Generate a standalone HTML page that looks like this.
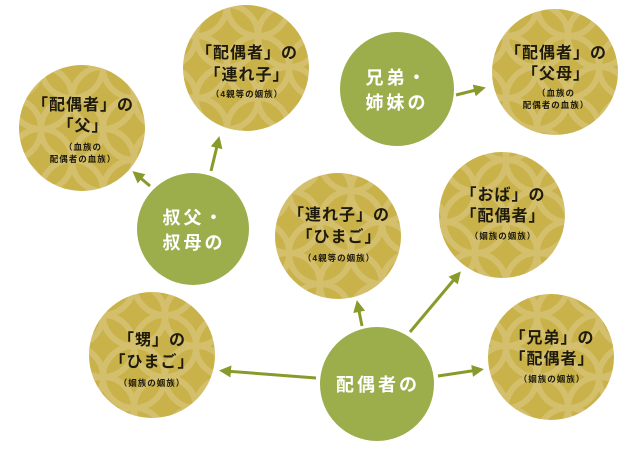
<!DOCTYPE html>
<html><head><meta charset="utf-8"><style>
html,body{margin:0;padding:0;background:#fff;}
svg{display:block;}
text{font-family:"Liberation Sans","Noto Sans CJK JP",sans-serif;font-weight:bold;text-anchor:middle;}
.g{fill:#1e1a0c;font-size:16px;letter-spacing:1px;}
.s{fill:#1e1a0c;font-size:8.5px;letter-spacing:1px;}
.w{fill:#fff;font-size:18px;letter-spacing:3px;}
</style></head><body>
<svg width="640" height="449" viewBox="0 0 640 449" xmlns="http://www.w3.org/2000/svg">
<defs>
<pattern id="p" width="62" height="62" patternUnits="userSpaceOnUse" x="10" y="5">
<rect width="62" height="62" fill="#c9b24a"/>
<g fill="none" stroke="#d3bf6c" stroke-width="6">
<circle cx="0" cy="0" r="31"/><circle cx="62" cy="0" r="31"/><circle cx="0" cy="62" r="31"/><circle cx="62" cy="62" r="31"/><circle cx="31" cy="31" r="31"/>
</g>
</pattern>
<marker id="a" markerWidth="4" markerHeight="4" refX="2" refY="2" orient="auto" markerUnits="strokeWidth">
<path d="M0,0 L4,2 L0,4 Z" fill="#8a9a2a"/>
</marker>
</defs>
<g fill="url(#p)">
<circle cx="82" cy="128" r="63"/>
<circle cx="246" cy="68" r="63"/>
<circle cx="555" cy="72" r="63"/>
<circle cx="502" cy="215" r="63"/>
<circle cx="338" cy="236" r="63"/>
<circle cx="152" cy="355" r="63"/>
<circle cx="551" cy="357" r="63"/>
</g>
<g fill="#9cad4c">
<circle cx="397" cy="89" r="57"/>
<circle cx="193" cy="229" r="56"/>
<circle cx="377" cy="384" r="57"/>
</g>
<g stroke="#8a9a2a" stroke-width="3" marker-end="url(#a)">
<line x1="150" y1="186" x2="137" y2="175"/>
<line x1="211" y1="171" x2="218" y2="142"/>
<line x1="456" y1="95" x2="480" y2="89"/>
<line x1="362" y1="326" x2="358" y2="306"/>
<line x1="410" y1="332" x2="457" y2="276"/>
<line x1="438" y1="376" x2="478" y2="370"/>
<line x1="316" y1="378" x2="225" y2="371"/>
</g>
<text class="g" x="83" y="110">「配偶者」の</text>
<text class="g" x="83" y="131">「父」</text>
<text class="s" x="83" y="150">（血族の</text>
<text class="s" x="83" y="162">配偶者の血族）</text>
<text class="g" x="247" y="58">「配偶者」の</text>
<text class="g" x="247" y="80">「連れ子」</text>
<text class="s" x="247" y="97">（4親等の姻族）</text>
<text class="g" x="556" y="58">「配偶者」の</text>
<text class="g" x="556" y="79">「父母」</text>
<text class="s" x="556" y="96">（血族の</text>
<text class="s" x="556" y="108">配偶者の血族）</text>
<text class="g" x="503" y="200">「おば」の</text>
<text class="g" x="503" y="221">「配偶者」</text>
<text class="s" x="503" y="239">（姻族の姻族）</text>
<text class="g" x="339" y="220">「連れ子」の</text>
<text class="g" x="339" y="242">「ひまご」</text>
<text class="s" x="339" y="261">（4親等の姻族）</text>
<text class="g" x="152" y="345">「甥」の</text>
<text class="g" x="152" y="367">「ひまご」</text>
<text class="s" x="152" y="386">（姻族の姻族）</text>
<text class="g" x="552" y="343">「兄弟」の</text>
<text class="g" x="552" y="364">「配偶者」</text>
<text class="s" x="552" y="382">（姻族の姻族）</text>
<text class="w" x="397" y="84">兄弟・</text>
<text class="w" x="397" y="109">姉妹の</text>
<text class="w" x="194" y="224">叔父・</text>
<text class="w" x="194" y="249">叔母の</text>
<text class="w" x="378" y="391">配偶者の</text>
</svg>
</body></html>
